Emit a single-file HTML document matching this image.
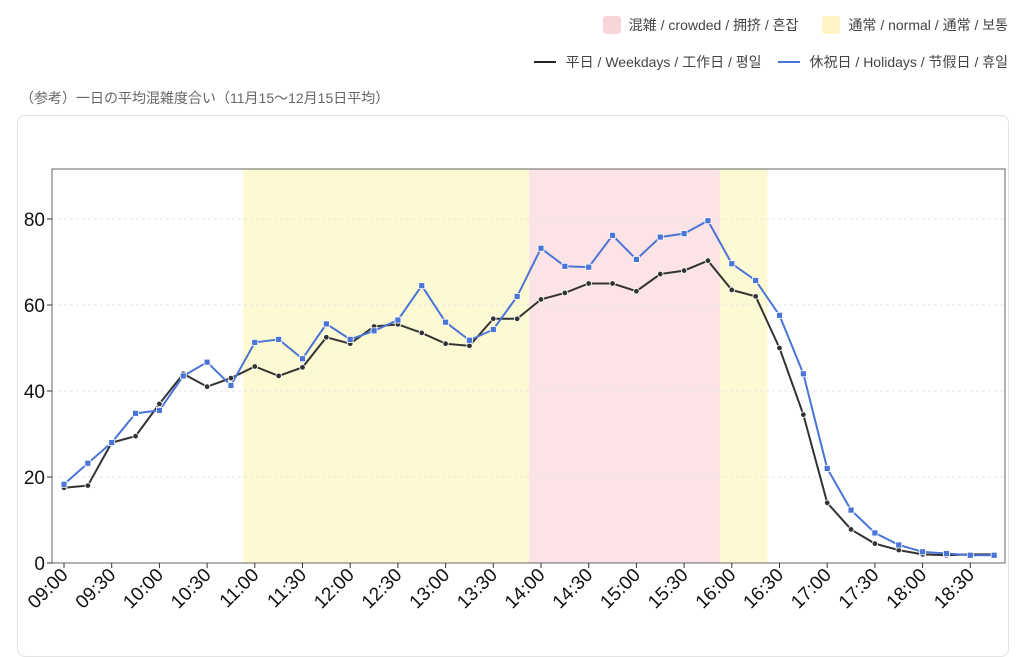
<!DOCTYPE html>
<html><head><meta charset="utf-8"><style>
body{margin:0;width:1024px;height:634px;background:#fff;font-family:"Liberation Sans","Noto Sans CJK JP",sans-serif;overflow:hidden;position:relative;color:#333}
.lg{position:absolute;font-size:14px;color:#444;white-space:nowrap}
.sw{display:inline-block;width:18px;height:18px;border-radius:3px;vertical-align:-4px;margin-right:8px}
.ln{display:inline-block;width:22px;height:2px;vertical-align:4px;margin-right:10px}
.card{position:absolute;left:17px;top:115px;width:990px;height:540px;border:1px solid #e3e3e3;border-radius:8px}
</style></head><body>
<div class="lg" style="right:16px;top:15px"><span class="sw" style="background:#f8d5d9"></span>混雑 / crowded / 拥挤 / 혼잡<span style="display:inline-block;width:24px"></span><span class="sw" style="background:#fdf6c4"></span>通常 / normal / 通常 / 보통</div>
<div class="lg" style="right:16px;top:52px"><span class="ln" style="background:#222"></span>平日 / Weekdays / 工作日 / 평일<span style="display:inline-block;width:16px"></span><span class="ln" style="background:#4a74d6"></span>休祝日 / Holidays / 节假日 / 휴일</div>
<div class="lg" style="left:20px;top:88px;color:#666">（参考）一日の平均混雑度合い（11月15～12月15日平均）</div>
<div class="card"></div>
<svg id="s" width="1024" height="634" style="position:absolute;left:0;top:0"></svg>
<script>
const W=[17.5,18,28,29.5,37,44,41,43,45.7,43.5,45.5,52.5,51,55,55.5,53.5,51,50.5,56.8,56.8,61.3,62.8,65,65,63.2,67.2,68,70.3,63.5,62,50,34.5,14,7.8,4.5,3,2,1.8,2,2];
const H=[18.3,23.2,28,34.8,35.5,43.5,46.7,41.3,51.3,52,47.5,55.6,52,54,56.5,64.5,56,51.8,54.3,62,73.2,69,68.8,76.2,70.6,75.8,76.6,79.6,69.6,65.7,57.6,44,22,12.3,7,4.2,2.6,2.2,1.8,1.8];
const X=i=>64+i*23.85, Y=v=>563-v*4.3;
let s='';
s+=`<rect x="${X(7.5)}" y="169" width="${X(19.5)-X(7.5)}" height="394" fill="#fdf9d3"/>`;
s+=`<rect x="${X(19.5)}" y="169" width="${X(27.5)-X(19.5)}" height="394" fill="#fce3e5"/>`;
s+=`<rect x="${X(27.5)}" y="169" width="${X(29.5)-X(27.5)}" height="394" fill="#fdf9d3"/>`;
for(let v=20;v<=80;v+=20)s+=`<line x1="52" x2="1005" y1="${Y(v)}" y2="${Y(v)}" stroke="#e6e6e6" stroke-dasharray="3,3"/>`;
s+=`<rect x="52" y="169" width="953" height="394" fill="none" stroke="#666" stroke-width="1"/>`;
for(let v=0;v<=80;v+=20){s+=`<line x1="47" x2="52" y1="${Y(v)}" y2="${Y(v)}" stroke="#333"/><text x="45" y="${Y(v)+7}" font-size="19" text-anchor="end" fill="#111">${v}</text>`;}
const lab=["09:00","09:30","10:00","10:30","11:00","11:30","12:00","12:30","13:00","13:30","14:00","14:30","15:00","15:30","16:00","16:30","17:00","17:30","18:00","18:30"];
lab.forEach((l,k)=>{const x=X(k*2);s+=`<line x1="${x}" x2="${x}" y1="563" y2="568" stroke="#333"/><text transform="translate(${x+5},${576}) rotate(-45)" font-size="19" text-anchor="end" fill="#111">${l}</text>`;});
s+=`<polyline fill="none" stroke="#333" stroke-width="2" points="${W.map((v,i)=>X(i)+','+Y(v)).join(' ')}"/>`;
s+=`<polyline fill="none" stroke="#4a74d6" stroke-width="2" points="${H.map((v,i)=>X(i)+','+Y(v)).join(' ')}"/>`;
W.forEach((v,i)=>s+=`<circle cx="${X(i)}" cy="${Y(v)}" r="2.8" fill="#333" stroke="#fff" stroke-width="0.8"/>`);
H.forEach((v,i)=>s+=`<rect x="${X(i)-3}" y="${Y(v)-3}" width="6" height="6" fill="#4a74d6" stroke="#fff" stroke-width="0.8"/>`);
document.getElementById('s').innerHTML=s;
</script>
</body></html>
